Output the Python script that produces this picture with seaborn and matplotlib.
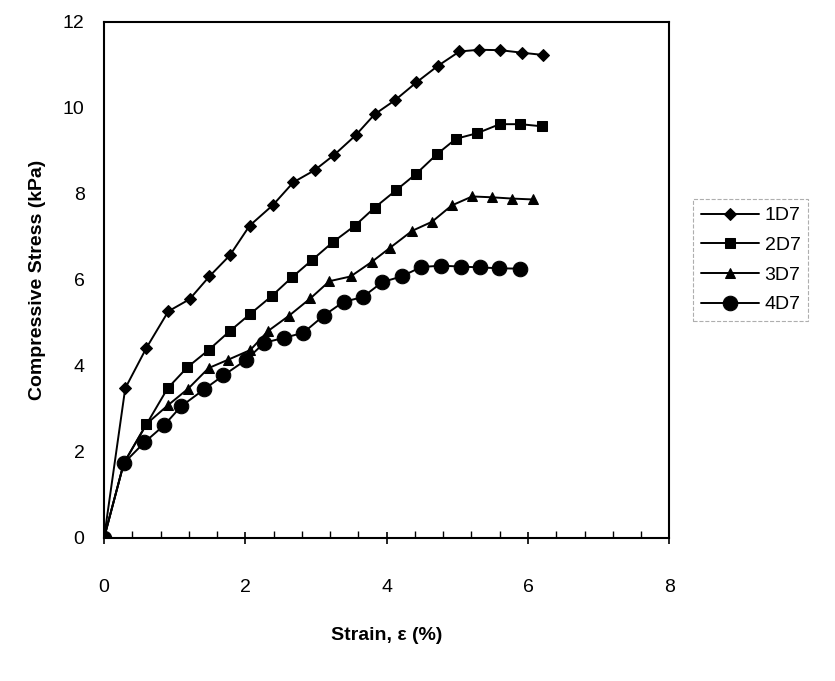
import matplotlib
matplotlib.use("Agg")
import matplotlib.pyplot as plt
import seaborn as sns
import pandas as pd
from matplotlib.ticker import MultipleLocator

# ---- data ----
series_names = ["1D7", "2D7", "3D7", "4D7"]

strain_1d7 = [0, 0.30, 0.60, 0.91, 1.21, 1.49, 1.78, 2.06, 2.39, 2.68, 2.98, 3.26,
              3.56, 3.83, 4.12, 4.42, 4.72, 5.03, 5.31, 5.61, 5.92, 6.21]
stress_1d7 = [0, 3.48, 4.42, 5.27, 5.55, 6.08, 6.57, 7.26, 7.74, 8.27, 8.55, 8.91,
              9.36, 9.85, 10.18, 10.59, 10.97, 11.31, 11.35, 11.34, 11.28, 11.23]

strain_2d7 = [0, 0.28, 0.60, 0.90, 1.18, 1.48, 1.78, 2.07, 2.37, 2.66, 2.95, 3.24,
              3.55, 3.83, 4.13, 4.42, 4.71, 4.98, 5.28, 5.60, 5.89, 6.20]
stress_2d7 = [0, 1.74, 2.64, 3.48, 3.97, 4.37, 4.81, 5.21, 5.62, 6.06, 6.47, 6.88,
              7.26, 7.68, 8.08, 8.47, 8.92, 9.28, 9.41, 9.62, 9.62, 9.57]

strain_3d7 = [0, 0.28, 0.60, 0.90, 1.19, 1.48, 1.75, 2.07, 2.32, 2.62, 2.92, 3.19,
              3.49, 3.79, 4.05, 4.36, 4.64, 4.92, 5.21, 5.49, 5.78, 6.07]
stress_3d7 = [0, 1.74, 2.65, 3.08, 3.47, 3.95, 4.14, 4.37, 4.81, 5.17, 5.57, 5.97,
              6.08, 6.42, 6.75, 7.14, 7.35, 7.73, 7.94, 7.92, 7.89, 7.87]

strain_4d7 = [0, 0.28, 0.57, 0.85, 1.09, 1.42, 1.69, 2.01, 2.27, 2.54, 2.82, 3.11,
              3.39, 3.66, 3.94, 4.21, 4.49, 4.77, 5.05, 5.32, 5.59, 5.89]
stress_4d7 = [0, 1.74, 2.22, 2.62, 3.06, 3.46, 3.78, 4.14, 4.54, 4.65, 4.77, 5.17,
              5.49, 5.60, 5.95, 6.08, 6.30, 6.33, 6.31, 6.29, 6.27, 6.26]

x_ticks = [0, 2, 4, 6, 8]
y_ticks = [0, 2, 4, 6, 8, 10, 12]

# ---- plotting ----
sns.set_theme(style="white")
plt.rcParams["font.family"] = ["Liberation Sans", "DejaVu Sans"]
plt.rcParams["text.color"] = "black"
plt.rcParams["axes.labelcolor"] = "black"
plt.rcParams["xtick.color"] = "black"
plt.rcParams["ytick.color"] = "black"

fig = plt.figure(figsize=(8.35, 6.81), dpi=100)
ax = fig.add_axes([0.1246, 0.21, 0.677, 0.758])

styles = {
    "1D7": dict(marker="D", markersize=6.5),
    "2D7": dict(marker="s", markersize=7),
    "3D7": dict(marker="^", markersize=7.5),
    "4D7": dict(marker="o", markersize=10.5),
}
data = {
    "1D7": (strain_1d7, stress_1d7),
    "2D7": (strain_2d7, stress_2d7),
    "3D7": (strain_3d7, stress_3d7),
    "4D7": (strain_4d7, stress_4d7),
}

for name in series_names:
    xs, ys = data[name]
    df = pd.DataFrame({"strain": xs, "stress": ys})
    sns.lineplot(data=df, x="strain", y="stress", ax=ax, color="black",
                 linewidth=1.4, markeredgecolor="black", markerfacecolor="black",
                 label=name, sort=False, **styles[name])

ax.set_xlim(0, 8)
ax.set_ylim(0, 12)
ax.set_xticks(x_ticks)
ax.set_yticks(y_ticks)
ax.xaxis.set_minor_locator(MultipleLocator(0.4))
ax.set_xticklabels([str(t) for t in x_ticks], fontsize=14, color="black")
ax.set_yticklabels([str(t) for t in y_ticks], fontsize=14, color="black")
ax.tick_params(axis="x", which="major", direction="inout", length=9, width=1.2,
               color="black", pad=25, bottom=True)
ax.tick_params(axis="x", which="minor", direction="in", length=5, width=1.0,
               color="black", bottom=True)
ax.tick_params(axis="y", which="both", length=0, pad=14)

for side in ["left", "right", "top", "bottom"]:
    ax.spines[side].set_visible(True)
    ax.spines[side].set_color("black")
    ax.spines[side].set_linewidth(1.5)

ax.set_xlabel("Strain, \u03b5 (%)", fontsize=14, fontweight="bold", labelpad=22,
              color="black")
ax.set_ylabel("Compressive Stress (kPa)", fontsize=14, fontweight="bold", labelpad=12,
              color="black")
ax.grid(False)

leg = ax.legend(loc="upper left", bbox_to_anchor=(0.818, 0.722),
                bbox_transform=fig.transFigure, fontsize=14, frameon=True,
                handlelength=3.0, handletextpad=0.3, labelspacing=0.62,
                borderpad=0.4, fancybox=False)
leg.get_frame().set_edgecolor("#9a9a9a")
leg.get_frame().set_linestyle("--")
leg.get_frame().set_linewidth(0.8)
for t in leg.get_texts():
    t.set_color("black")

fig.savefig("out.png", dpi=100)
